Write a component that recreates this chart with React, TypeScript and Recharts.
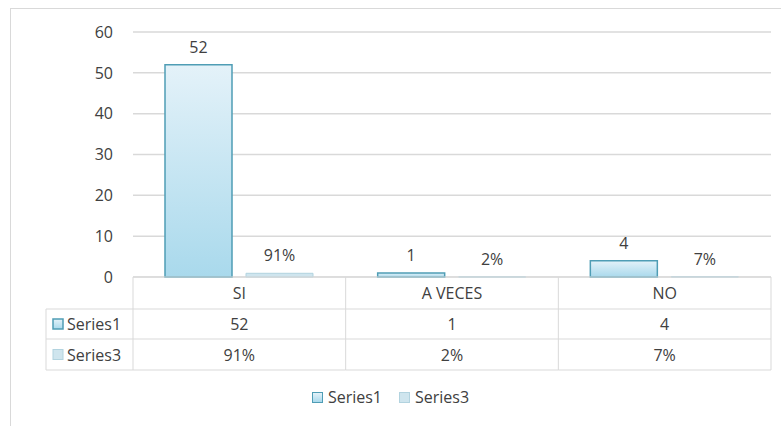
import React from 'react';
import { BarChart, Bar, XAxis, YAxis, CartesianGrid, LabelList, Legend } from 'recharts';

const categories = ['SI', 'A VECES', 'NO'];
const series1 = [52, 1, 4];
const series3 = [0.91, 0.02, 0.07];
const series3Labels = ['91%', '2%', '7%'];
const seriesNames = ['Series1', 'Series3'];
const yTicks = [0, 10, 20, 30, 40, 50, 60];

const data = categories.map((c, i) => ({
  cat: c,
  s1: series1[i],
  s3: series3[i],
  s1label: String(series1[i]),
  s3label: series3Labels[i],
}));

const W = 781;
const H = 426;
const PLOT_LEFT = 133;
const PLOT_RIGHT = 771;
const PLOT_TOP = 32;
const PLOT_BOTTOM = 277;
const ROW1 = 309;
const ROW2 = 339;
const ROW3 = 370;
const TABLE_LEFT = 46;
const FONT = '"Open Sans", sans-serif';
const FS = 16;
const TEXT = '#404040';
const LINE = '#d9d9d9';
const S1_STROKE = '#4f9db5';
const S3_FILL = '#cfe5ee';
const S3_STROKE = '#b2d3df';

const TableTick = (props: any) => {
  const { x, index, payload } = props;
  const bw = (PLOT_RIGHT - PLOT_LEFT) / categories.length;
  const left = x - bw / 2;
  const right = x + bw / 2;
  const row = data[index] || data.find((d) => d.cat === payload.value);
  return (
    <g>
      {index === 0 && (
        <g>
          <line x1={left} x2={left} y1={PLOT_BOTTOM} y2={ROW3} stroke={LINE} />
          <line x1={TABLE_LEFT} x2={left} y1={ROW1} y2={ROW1} stroke={LINE} />
          <line x1={TABLE_LEFT} x2={left} y1={ROW2} y2={ROW2} stroke={LINE} />
          <line x1={TABLE_LEFT} x2={left} y1={ROW3} y2={ROW3} stroke={LINE} />
          <line x1={TABLE_LEFT} x2={TABLE_LEFT} y1={ROW1} y2={ROW3} stroke={LINE} />
          <rect x={53} y={(ROW1 + ROW2) / 2 - 5} width={10} height={10} fill="url(#g1)" stroke={S1_STROKE} strokeWidth={1.5} />
          <text x={67} y={(ROW1 + ROW2) / 2} dominantBaseline="central" fontSize={FS} fontFamily={FONT} fill={TEXT}>
            {seriesNames[0]}
          </text>
          <rect x={53} y={(ROW2 + ROW3) / 2 - 5} width={10} height={10} fill={S3_FILL} stroke={S3_STROKE} />
          <text x={67} y={(ROW2 + ROW3) / 2} dominantBaseline="central" fontSize={FS} fontFamily={FONT} fill={TEXT}>
            {seriesNames[1]}
          </text>
        </g>
      )}
      <line x1={right} x2={right} y1={PLOT_BOTTOM} y2={ROW3} stroke={LINE} />
      <line x1={left} x2={right} y1={ROW1} y2={ROW1} stroke={LINE} />
      <line x1={left} x2={right} y1={ROW2} y2={ROW2} stroke={LINE} />
      <line x1={left} x2={right} y1={ROW3} y2={ROW3} stroke={LINE} />
      <text x={x} y={(PLOT_BOTTOM + ROW1) / 2} textAnchor="middle" dominantBaseline="central" fontSize={FS} fontFamily={FONT} fill={TEXT}>
        {payload.value}
      </text>
      <text x={x} y={(ROW1 + ROW2) / 2} textAnchor="middle" dominantBaseline="central" fontSize={FS} fontFamily={FONT} fill={TEXT}>
        {row ? row.s1label : ''}
      </text>
      <text x={x} y={(ROW2 + ROW3) / 2} textAnchor="middle" dominantBaseline="central" fontSize={FS} fontFamily={FONT} fill={TEXT}>
        {row ? row.s3label : ''}
      </text>
    </g>
  );
};

const LegendContent = () => (
  <div style={{ display: 'flex', justifyContent: 'center', alignItems: 'center', gap: 17, fontFamily: FONT, fontSize: FS, color: TEXT }}>
    {seriesNames.map((n, i) => (
      <div key={n} style={{ display: 'flex', alignItems: 'center', gap: 5 }}>
        <div
          style={{
            width: 9,
            height: 9,
            background: i === 0 ? 'linear-gradient(#e4f2f9, #a9d9ec)' : S3_FILL,
            border: `1.5px solid ${i === 0 ? S1_STROKE : S3_STROKE}`,
          }}
        />
        <span>{n}</span>
      </div>
    ))}
  </div>
);

export default function App() {
  return (
    <div style={{ position: 'absolute', left: 0, top: 0, width: W, height: H, background: '#fff' }}>
      <div
        style={{
          position: 'absolute',
          left: 10,
          top: 8,
          width: W - 10,
          height: H - 8,
          borderLeft: `1px solid ${LINE}`,
          borderTop: `1px solid ${LINE}`,
          boxSizing: 'border-box',
        }}
      />
      <div style={{ position: 'absolute', left: 0, top: 0 }}>
        <BarChart
          width={W}
          height={H}
          data={data}
          margin={{ top: PLOT_TOP, right: W - PLOT_RIGHT, bottom: 0, left: 0 }}
          barCategoryGap={32}
          barGap={14}
        >
          <defs>
            <linearGradient id="g1" x1="0" y1="0" x2="0" y2="1">
              <stop offset="0%" stopColor="#e4f2f9" />
              <stop offset="100%" stopColor="#a9d9ec" />
            </linearGradient>
          </defs>
          <CartesianGrid vertical={false} stroke={LINE} strokeWidth={1.5} />
          <YAxis
            width={PLOT_LEFT}
            domain={[0, 60]}
            ticks={yTicks}
            axisLine={false}
            tickLine={false}
            tickMargin={14}
            tick={{ fontSize: FS, fill: TEXT, fontFamily: FONT }}
          />
          <XAxis
            dataKey="cat"
            height={H - PLOT_BOTTOM}
            axisLine={{ stroke: LINE }}
            tickLine={false}
            tick={<TableTick />}
            interval={0}
          />
          <Legend
            verticalAlign="middle"
            layout="horizontal"
            content={<LegendContent />}
            wrapperStyle={{ position: 'absolute', top: 386, left: 0, width: W }}
          />
          <Bar dataKey="s1" name={seriesNames[0]} fill="url(#g1)" stroke={S1_STROKE} strokeWidth={1.5} isAnimationActive={false}>
            <LabelList dataKey="s1label" position="top" offset={12} fontSize={FS} fill={TEXT} fontFamily={FONT} />
          </Bar>
          <Bar dataKey="s3" name={seriesNames[1]} fill={S3_FILL} stroke={S3_STROKE} strokeWidth={1} isAnimationActive={false}>
            <LabelList dataKey="s3label" position="top" offset={12} fontSize={FS} fill={TEXT} fontFamily={FONT} />
          </Bar>
        </BarChart>
      </div>
    </div>
  );
}
